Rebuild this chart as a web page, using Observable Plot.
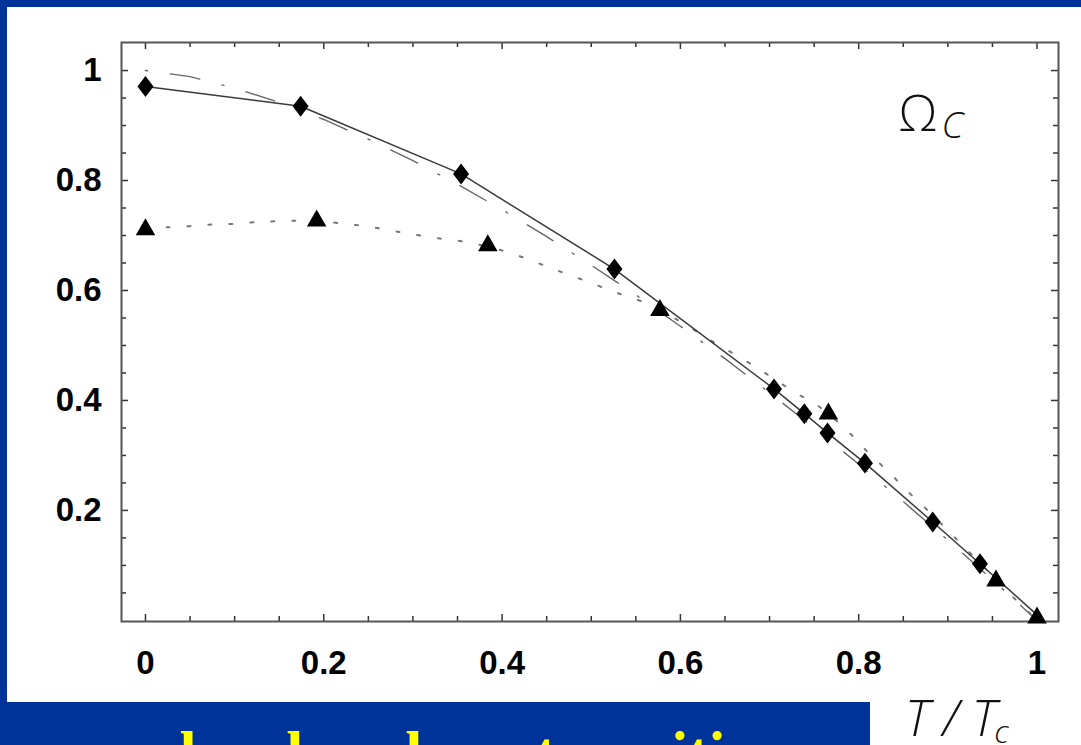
<!DOCTYPE html>
<html>
<head>
<meta charset="utf-8">
<script src="https://cdn.jsdelivr.net/npm/d3@7"></script>
<script src="https://cdn.jsdelivr.net/npm/@observablehq/plot@0.6"></script>
<style>
  html, body { margin: 0; padding: 0; }
  body { width: 1081px; height: 745px; background: #003399; position: relative; overflow: hidden; }
  #panel { position: absolute; left: 7px; top: 7px; width: 1074px; height: 695px; background: #fff; }
  #corner { position: absolute; left: 870px; top: 702px; width: 211px; height: 43px; background: #fff; }
  #chart { position: absolute; left: 7px; top: 7px; }
  #caption { position: absolute; left: 20px; top: 723px; font-family: "Liberation Serif", serif; font-weight: bold;
             font-size: 61px; line-height: 61px; color: #ffff00; white-space: nowrap; }
  #xlabel { position: absolute; left: 905px; top: 692px; font-family: "Open Sans", sans-serif; font-style: italic;
            font-weight: 300; font-size: 50px; line-height: 50px; color: #111; white-space: nowrap; }
  #xlabel span { display: inline-block; }
  #xlabel .gap { margin-left: 13px; }
  #xlabel .sub { font-size: 32px; position: relative; top: 7px; margin-left: -2px; }
</style>
</head>
<body>
<div id="panel"></div>
<div id="corner"></div>
<div id="chart"></div>
<div id="caption">second order phase transition</div>
<div id="xlabel"><span>T</span><span class="gap">/</span><span class="gap">T</span><span class="sub">c</span></div>
<script>
// ---- data ----
// diamonds (solid line)
const diamondT = [0, 0.174, 0.354, 0.526, 0.705, 0.739, 0.765, 0.807, 0.883, 0.936];
const diamondV = [0.971, 0.935, 0.812, 0.639, 0.421, 0.376, 0.341, 0.286, 0.179, 0.103];
// triangles
const triangleT = [0, 0.192, 0.384, 0.577, 0.766, 0.954, 1.0];
const triangleV = [0.716, 0.732, 0.687, 0.569, 0.381, 0.077, 0.01];
// dotted curve
const dottedT = [0, 0.026, 0.05, 0.074, 0.098, 0.122, 0.146, 0.17, 0.192, 0.218, 0.242, 0.266, 0.289, 0.312, 0.337, 0.361, 0.385, 0.408, 0.43, 0.453, 0.474, 0.498, 0.52, 0.542, 0.565, 0.586, 0.608, 0.629, 0.648, 0.669, 0.69, 0.71, 0.73, 0.751, 0.77, 0.788, 0.804, 0.822, 0.839, 0.856, 0.873, 0.89, 0.907, 0.924, 0.94, 0.955, 0.969, 0.985, 1];
const dottedV = [0.715, 0.715, 0.717, 0.72, 0.721, 0.724, 0.726, 0.727, 0.728, 0.722, 0.718, 0.712, 0.705, 0.699, 0.693, 0.688, 0.679, 0.669, 0.656, 0.642, 0.629, 0.615, 0.601, 0.588, 0.575, 0.556, 0.536, 0.514, 0.496, 0.476, 0.455, 0.434, 0.413, 0.394, 0.37, 0.344, 0.316, 0.288, 0.261, 0.233, 0.207, 0.18, 0.152, 0.124, 0.098, 0.073, 0.049, 0.024, 0];
// dash-dot curve
const dashDotT = [0, 0.05, 0.1, 0.15, 0.2, 0.25, 0.3, 0.35, 0.4, 0.45, 0.5, 0.55, 0.6, 0.65, 0.7, 0.75, 0.8, 0.85, 0.9, 0.95, 1.0];
const dashDotV = [1.0, 0.989, 0.968, 0.942, 0.911, 0.875, 0.836, 0.793, 0.747, 0.698, 0.646, 0.592, 0.535, 0.476, 0.414, 0.35, 0.284, 0.216, 0.146, 0.074, 0.0];
// ticks
const xMajor = [0, 0.2, 0.4, 0.6, 0.8, 1];
const xLabels = ["0", "0.2", "0.4", "0.6", "0.8", "1"];
const xMinor = [0.05, 0.1, 0.15, 0.25, 0.3, 0.35, 0.45, 0.5, 0.55, 0.65, 0.7, 0.75, 0.85, 0.9, 0.95];
const yMajor = [0.2, 0.4, 0.6, 0.8, 1];
const yLabels = ["0.2", "0.4", "0.6", "0.8", "1"];
const yMinor = [0.05, 0.1, 0.15, 0.25, 0.3, 0.35, 0.45, 0.5, 0.55, 0.65, 0.7, 0.75, 0.85, 0.9, 0.95];
const omegaText = ["Ω"];
const omegaSub = ["C"];

// ---- tables ----
const diamonds = diamondT.map((t, i) => ({t, v: diamondV[i]}));
const triangles = triangleT.map((t, i) => ({t, v: triangleV[i]}));
const solid = [...diamonds, triangles[triangles.length - 1]];
const dotted = dottedT.map((t, i) => ({t, v: dottedV[i]}));
const dashDot = dashDotT.map((t, i) => ({t, v: dashDotV[i]}));

// ---- layout ----
const W = 1074, H = 695, mL = 114, mR = 23, mT = 35, mB = 81;
const innerW = W - mL - mR, innerH = H - mT - mB;

const diamondSym = {
  draw(ctx, size) {
    const r = Math.sqrt(size / Math.PI);
    const w = r, h = r * 1.31;
    ctx.moveTo(0, -h); ctx.lineTo(w, 0); ctx.lineTo(0, h); ctx.lineTo(-w, 0); ctx.closePath();
  }
};
const triangleSym = {
  draw(ctx, size) {
    const r = Math.sqrt(size / Math.PI);
    const w = r * 1.22, h = r * 1.06;
    ctx.moveTo(0, -h); ctx.lineTo(w, h); ctx.lineTo(-w, h); ctx.closePath();
  }
};

const tickColor = "#333";
const plot = Plot.plot({
  width: W, height: H,
  marginLeft: mL, marginRight: mR, marginTop: mT, marginBottom: mB,
  style: {fontFamily: "Liberation Sans, Arial, sans-serif", fontSize: "33px", fontWeight: "bold", background: "white", color: "#000"},
  x: {domain: [-0.0269, 1.0241]},
  y: {domain: [-0.002, 1.051]},
  marks: [
    // inward ticks
    Plot.ruleX(xMinor, {insetTop: innerH - 5, stroke: tickColor, strokeWidth: 1.5}),
    Plot.ruleX(xMinor, {insetBottom: innerH - 5, stroke: tickColor, strokeWidth: 1.5}),
    Plot.ruleX(xMajor, {insetTop: innerH - 7, stroke: tickColor, strokeWidth: 1.5}),
    Plot.ruleX(xMajor, {insetBottom: innerH - 7, stroke: tickColor, strokeWidth: 1.5}),
    Plot.ruleY(yMinor, {insetRight: innerW - 5, stroke: tickColor, strokeWidth: 1.5}),
    Plot.ruleY(yMinor, {insetLeft: innerW - 5, stroke: tickColor, strokeWidth: 1.5}),
    Plot.ruleY(yMajor, {insetRight: innerW - 7, stroke: tickColor, strokeWidth: 1.5}),
    Plot.ruleY(yMajor, {insetLeft: innerW - 7, stroke: tickColor, strokeWidth: 1.5}),
    Plot.frame({stroke: "#555", strokeWidth: 2}),
    Plot.axisX(xMajor, {anchor: "bottom", tickSize: 0, tickPadding: 29, label: null,
      tickFormat: d => xLabels[xMajor.indexOf(d)], fill: "#000"}),
    Plot.axisY(yMajor, {anchor: "left", tickSize: 0, tickPadding: 20, label: null,
      tickFormat: d => yLabels[yMajor.indexOf(d)], fill: "#000"}),
    // curves
    Plot.line(dashDot, {x: "t", y: "v", stroke: "#666", strokeWidth: 1.4, strokeDasharray: "2,23,30,23"}),
    Plot.line(dotted, {x: "t", y: "v", stroke: "#777", strokeWidth: 2, strokeDasharray: "3,18", curve: "catmull-rom"}),
    Plot.line(solid, {x: "t", y: "v", stroke: "#3a3a3a", strokeWidth: 1.5}),
    // markers
    Plot.dot(diamonds, {x: "t", y: "v", symbol: diamondSym, r: 8, fill: "#000", stroke: "none"}),
    Plot.dot(triangles, {x: "t", y: "v", symbol: triangleSym, r: 8, fill: "#000", stroke: "none"}),
    // annotation
    Plot.text(omegaText, {text: d => d, frameAnchor: "top-right", textAnchor: "start", lineAnchor: "bottom",
      dx: -160, dy: 88, fontSize: 50, fontWeight: 300, fontFamily: "Open Sans, sans-serif", fill: "#111"}),
    Plot.text(omegaSub, {text: d => d, frameAnchor: "top-right", textAnchor: "start", lineAnchor: "bottom",
      dx: -117, dy: 95, fontSize: 37, fontWeight: 300, fontStyle: "italic", fontFamily: "Open Sans, sans-serif", fill: "#111"})
  ]
});
document.getElementById("chart").appendChild(plot);
</script>
</body>
</html>
